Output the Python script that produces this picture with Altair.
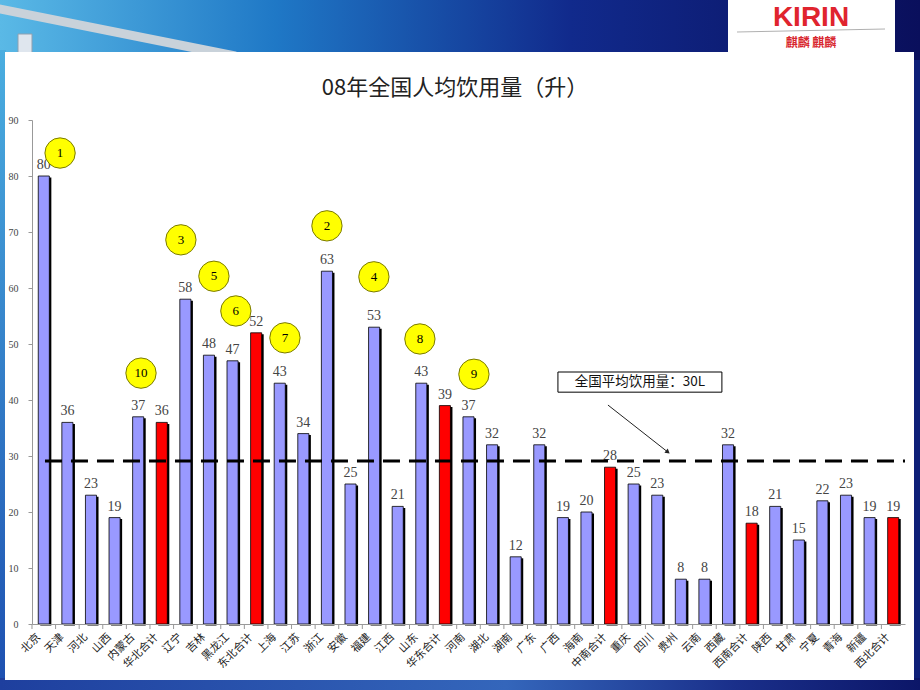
import altair as alt
import pandas as pd

# ---------------- data ----------------
categories = ["北京", "天津", "河北", "山西", "内蒙古", "华北合计",
              "辽宁", "吉林", "黑龙江", "东北合计",
              "上海", "江苏", "浙江", "安徽", "福建", "江西", "山东", "华东合计",
              "河南", "湖北", "湖南", "广东", "广西", "海南", "中南合计",
              "重庆", "四川", "贵州", "云南", "西藏", "西南合计",
              "陕西", "甘肃", "宁夏", "青海", "新疆", "西北合计"]
values = [80, 36, 23, 19, 37, 36,
          58, 48, 47, 52,
          43, 34, 63, 25, 53, 21, 43, 39,
          37, 32, 12, 32, 19, 20, 28,
          25, 23, 8, 8, 32, 18,
          21, 15, 22, 23, 19, 19]
kinds = ["合计" if c.endswith("合计") else "省份" for c in categories]

rank_labels = ["1", "10", "3", "5", "6", "7", "2", "4", "8", "9"]
rank_x = [1.19, 4.62, 6.31, 7.71, 8.64, 10.72, 12.5, 14.49, 16.44, 18.73]
rank_y = [84.1, 44.8, 68.6, 62.1, 55.9, 51.1, 71.1, 62.0, 50.9, 44.6]

avg_value = 29.1
avg_text = "全国平均饮用量：30L"
title_text = "08年全国人均饮用量（升）"

# ---------------- layout ----------------
W, H = 873, 504
PL, PT = 32, 120

df = pd.DataFrame({"cat": categories, "val": values, "kind": kinds})
ranks = pd.DataFrame({"x": rank_x, "y": rank_y, "t": rank_labels})
avg_df = pd.DataFrame({"x": [0.55], "x2": [37], "y": [avg_value]})
box_df = pd.DataFrame({"x": [22.29], "x2": [29.24], "y": [45.0], "y2": [41.4],
                       "tx": [25.76], "ty": [43.2], "t": [avg_text]})
arrow_df = pd.DataFrame({"x": [24.41], "x2": [26.95], "y": [39.1], "y2": [30.7]})
one = pd.DataFrame({"a": [0]})

yscale = alt.Scale(domain=[0, 90], nice=False)
yaxis = alt.Axis(title=None, values=list(range(0, 100, 10)), labelFont="Liberation Serif",
                 labelFontSize=10, labelColor="#444", domainColor="#999", tickColor="#999",
                 tickSize=4, grid=False, labelPadding=10, zindex=2)
band_scale = alt.Scale(paddingInner=0.53, paddingOuter=0.265)
xaxis = alt.Axis(title=None, labelAngle=-45, labelAlign="right", labelBaseline="middle",
                 labelFont="Noto Sans CJK SC", labelFontSize=11, labelColor="#222",
                 domainColor="#999", ticks=False, labelPadding=11, labelOffset=-5, zindex=2)
xband_axis = alt.X("cat:N", sort=categories, scale=band_scale, axis=xaxis)
xband = alt.X("cat:N", sort=categories, scale=band_scale, axis=None)
xq_scale = alt.Scale(domain=[0, 37], nice=False, zero=False)


def xq(field):
    return alt.X(field, type="quantitative", scale=xq_scale, axis=None)


def yq(field):
    return alt.Y(field, type="quantitative", scale=yscale, axis=yaxis)


# ---------------- slide decoration ----------------
header_grad = alt.LinearGradient(
    gradient="linear",
    stops=[alt.GradientStop(color="#5ab9e6", offset=0),
           alt.GradientStop(color="#1f78c6", offset=0.3),
           alt.GradientStop(color="#112a8c", offset=0.62),
           alt.GradientStop(color="#0a0f5c", offset=1)],
    x1=0, x2=1, y1=0, y2=0)
left_grad = alt.LinearGradient(
    gradient="linear",
    stops=[alt.GradientStop(color="#4aaee0", offset=0),
           alt.GradientStop(color="#1d4fb0", offset=1)],
    x1=0, x2=0, y1=0, y2=1)
bottom_grad = alt.LinearGradient(
    gradient="linear",
    stops=[alt.GradientStop(color="#1e3f9e", offset=0),
           alt.GradientStop(color="#3466bb", offset=0.55),
           alt.GradientStop(color="#1a2f8a", offset=0.8),
           alt.GradientStop(color="#0c1668", offset=1)],
    x1=0, x2=1, y1=0, y2=0)

header = alt.Chart(one).mark_rect(color=header_grad).encode(
    x=alt.value(-PL), x2=alt.value(920 - PL), y=alt.value(-PT), y2=alt.value(60 - PT))
left_strip = alt.Chart(one).mark_rect(color=left_grad).encode(
    x=alt.value(-PL), x2=alt.value(6 - PL), y=alt.value(50 - PT), y2=alt.value(690 - PT))
bottom_strip = alt.Chart(one).mark_rect(color=bottom_grad).encode(
    x=alt.value(-PL), x2=alt.value(920 - PL), y=alt.value(678 - PT), y2=alt.value(690 - PT))
pipe = alt.Chart(one).mark_rule(color="#c9d2da", strokeWidth=9, strokeCap="round").encode(
    x=alt.value(-PL - 5), y=alt.value(8 - PT), x2=alt.value(235 - PL), y2=alt.value(56 - PT))
sign = alt.Chart(one).mark_rect(color="#dfe6ee", stroke="#8fa0b0").encode(
    x=alt.value(18 - PL), x2=alt.value(32 - PL), y=alt.value(34 - PT), y2=alt.value(56 - PT))
panel = alt.Chart(one).mark_rect(color="white").encode(
    x=alt.value(5 - PL), x2=alt.value(914 - PL), y=alt.value(52 - PT), y2=alt.value(680 - PT))
logo_box = alt.Chart(one).mark_rect(color="white").encode(
    x=alt.value(728 - PL), x2=alt.value(895 - PL), y=alt.value(-PT), y2=alt.value(53 - PT))
logo_text = alt.Chart(one).mark_text(font="Liberation Sans", fontWeight="bold", fontSize=28,
                                     color="#e0242e", baseline="alphabetic").encode(
    x=alt.value(811 - PL), y=alt.value(26 - PT), text=alt.value("KIRIN"))
logo_line = alt.Chart(one).mark_rule(color="#b0b0b0", strokeWidth=1).encode(
    x=alt.value(737 - PL), x2=alt.value(885 - PL), y=alt.value(32 - PT), y2=alt.value(29 - PT))
logo_cn = alt.Chart(one).mark_text(font="Noto Sans CJK SC", fontWeight="bold", fontSize=12,
                                   color="#d8262e", baseline="middle").encode(
    x=alt.value(811 - PL), y=alt.value(43 - PT), text=alt.value("麒麟  麒麟"))
title = alt.Chart(one).mark_text(font="Noto Sans CJK SC", fontSize=22, color="#222",
                                 baseline="middle").encode(
    x=alt.value(455 - PL), y=alt.value(88 - PT), text=alt.value(title_text))

# ---------------- chart ----------------
shadow = alt.Chart(df).mark_bar(color="black", xOffset=2, yOffset=1.5).encode(
    x=xband, y=yq("val"))
bars = alt.Chart(df).mark_bar(stroke="black", strokeWidth=0.8).encode(
    x=xband_axis, y=yq("val"),
    color=alt.Color("kind:N", scale=alt.Scale(domain=["省份", "合计"], range=["#9999FF", "#FF0000"]),
                    legend=None))
vlabels = alt.Chart(df).mark_text(baseline="bottom", dy=-4, font="Liberation Serif",
                                  fontSize=14, color="#444").encode(
    x=xband, y=yq("val"), text="val:Q")
ticks = alt.Chart(df).mark_rule(color="#999", xOffset=-11.8).encode(
    x=xband, y=alt.value(H), y2=alt.value(H + 5))

avg_line = alt.Chart(avg_df).mark_rule(color="black", strokeWidth=3, strokeDash=[17, 9]).encode(
    x=xq("x"), x2="x2:Q", y=yq("y"))

circles = alt.Chart(ranks).mark_point(shape="circle", size=920, filled=True, fill="#FFFF00",
                                      stroke="#7a7a00", strokeWidth=1, opacity=1).encode(
    x=xq("x"), y=yq("y"))
circle_text = alt.Chart(ranks).mark_text(font="Liberation Serif", fontSize=13, color="black",
                                         baseline="middle").encode(
    x=xq("x"), y=yq("y"), text="t:N")

box = alt.Chart(box_df).mark_rect(fill="white", stroke="black", strokeWidth=1).encode(
    x=xq("x"), x2="x2:Q", y=yq("y"), y2="y2:Q")
box_text = alt.Chart(box_df).mark_text(font="Noto Sans CJK SC", fontSize=13.5, color="#111",
                                       baseline="middle").encode(
    x=xq("tx"), y=yq("ty"), text="t:N")
arrow = alt.Chart(arrow_df).mark_rule(color="#222", strokeWidth=1).encode(
    x=xq("x"), x2="x2:Q", y=yq("y"), y2="y2:Q")
arrow_head = alt.Chart(arrow_df).mark_point(shape="triangle-right", size=28, filled=True,
                                            color="#222", angle=38, opacity=1).encode(
    x=xq("x2"), y=yq("y2"))

chart = alt.layer(
    header, left_strip, bottom_strip, pipe, sign, panel, logo_box, logo_text, logo_line, logo_cn,
    title, shadow, bars, vlabels, ticks, avg_line, circles, circle_text, box, box_text, arrow,
    arrow_head
).resolve_scale(x="independent").properties(
    width=W, height=H,
    autosize=alt.AutoSizeParams(type="none"),
    padding={"left": PL, "top": PT, "right": 920 - PL - W, "bottom": 690 - PT - H},
    background="#0e1f78",
).configure_view(stroke=None)

chart.save("out.html", embed_options={"renderer": "svg", "actions": False})
